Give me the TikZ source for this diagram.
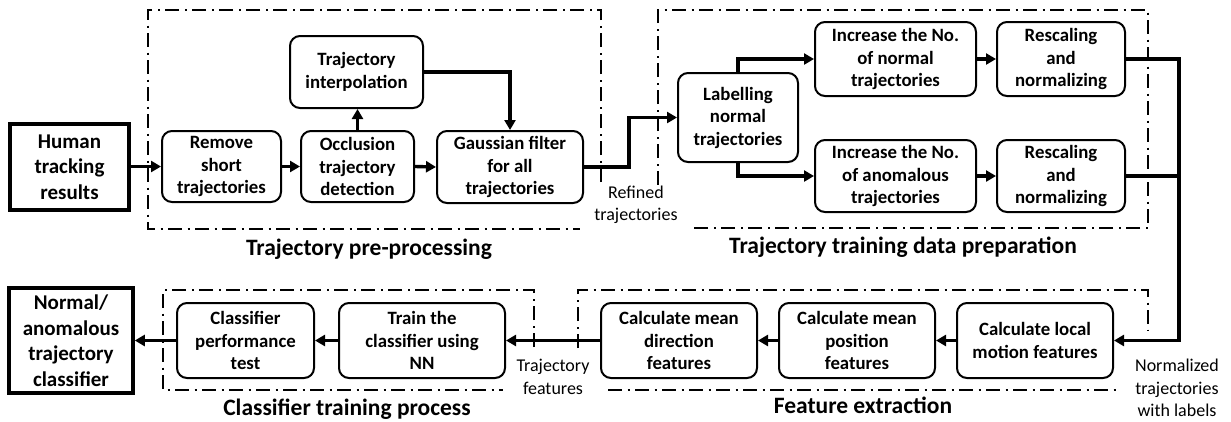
\documentclass[tikz,border=0pt]{standalone}
\usepackage{fontspec}
\setmainfont{Carlito}
\usetikzlibrary{arrows.meta}

\begin{document}
\begin{tikzpicture}[x=1pt,y=-1pt,
  proc/.style={draw, line width=2pt, rounded corners=10pt, align=center,
    inner sep=0pt, font=\bfseries\fontsize{18.8}{22.5}\selectfont},
  endbox/.style={draw, line width=3.6pt, align=center, inner sep=0pt,
    font=\bfseries\fontsize{21}{25.5}\selectfont},
  grp/.style={line width=1.6pt, dash pattern=on 14pt off 5.5pt on 2pt off 5.5pt},
  flow/.style={line width=3.4pt, -{Triangle[length=10pt,width=11pt]}},
  link/.style={line width=3.4pt},
  lbl/.style={fill=white, align=center, inner sep=1pt,
    font=\fontsize{18}{22.5}\selectfont},
  grptitle/.style={anchor=base, font=\bfseries\fontsize{23.5}{28}\selectfont}]

\useasboundingbox (0,0) rectangle (1231,421);

% group frames (open where a label sits on them)
\draw[grp] (601,182) -- (601,10) -- (148,10) -- (148,229) -- (580,229);
\draw[grp] (658,185) -- (658,10) -- (1148,10) -- (1148,228) -- (692,228);
\draw[grp] (534,347) -- (534,290) -- (163,290) -- (163,390) -- (503,390);
\draw[grp] (578,348) -- (578,290) -- (1148,290) -- (1148,330);
\draw[grp] (608,390) -- (1120,390);

% top row: pre-processing
\node[endbox, minimum width=119pt, minimum height=86pt] (human) at (69.5,167) {Human\\tracking\\results};
\node[proc, minimum width=119pt, minimum height=71pt] (remove) at (221.5,166.5) {Remove\\short\\trajectories};
\node[proc, minimum width=113pt, minimum height=71pt] (occl) at (357.5,166.5) {Occlusion\\trajectory\\detection};
\node[proc, minimum width=146pt, minimum height=72pt] (gauss) at (510,167) {Gaussian filter\\for all\\trajectories};
\node[proc, minimum width=133pt, minimum height=72pt] (interp) at (356.5,72) {Trajectory\\interpolation};

% top row: training data preparation
\node[proc, minimum width=120pt, minimum height=89pt] (labelling) at (738,117.5) {Labelling\\normal\\trajectories};
\node[proc, minimum width=161pt, minimum height=74pt] (incN) at (895.5,59) {Increase the No.\\of normal\\trajectories};
\node[proc, minimum width=128pt, minimum height=74pt] (resN) at (1061,59) {Rescaling\\and\\normalizing};
\node[proc, minimum width=161pt, minimum height=72pt] (incA) at (895.5,176) {Increase the No.\\of anomalous\\trajectories};
\node[proc, minimum width=128pt, minimum height=72pt] (resA) at (1061,176) {Rescaling\\and\\normalizing};

% bottom row
\node[endbox, minimum width=124pt, minimum height=105pt] (result) at (71,340.5) {Normal/\\anomalous\\trajectory\\classifier};
\node[proc, minimum width=137pt, minimum height=75pt] (cpt) at (245.5,340.5) {Classifier\\performance\\test};
\node[proc, minimum width=166pt, minimum height=75pt] (train) at (422,340.5) {Train the\\classifier using\\NN};
\node[proc, minimum width=156pt, minimum height=75pt] (dir) at (679,340.5) {Calculate mean\\direction\\features};
\node[proc, minimum width=156pt, minimum height=75pt] (pos) at (857,340.5) {Calculate mean\\position\\features};
\node[proc, minimum width=156pt, minimum height=75pt] (local) at (1035,340.5) {Calculate local\\motion features};

% connectors
\draw[flow] (human.east |- remove.west) -- (remove.west);
\draw[flow] (remove.east) -- (occl.west);
\draw[flow] (occl.east) -- (gauss.west);
\draw[flow] (occl.north) -- (occl.north |- interp.south);
\draw[flow, line join=miter] (interp.east) -| (gauss.north);
\coordinate (rise) at (629,167);
\draw[flow, line join=miter] (gauss.east) -- (rise) |- (labelling.west);
\draw[flow, line join=miter] (labelling.north) |- (incN.west);
\draw[flow, line join=miter] (labelling.south) |- (incA.west);
\draw[flow] (incN.east) -- (resN.west);
\draw[flow] (incA.east) -- (resA.west);
\coordinate (bus) at (1179,340.5);
\draw[link] (resA.east) -- (resA.east -| bus);
\draw[flow, line join=miter] (resN.east) -| (bus) -- (local.east);
\draw[flow] (local.west) -- (pos.east);
\draw[flow] (pos.west) -- (dir.east);
\draw[flow] (dir.west) -- (train.east);
\draw[flow] (train.west) -- (cpt.east);
\draw[flow] (cpt.west) -- (result.east);

% connector labels
\node[lbl] (refined) at (636,205) {Refined\\trajectories};
\node[lbl] (tfeat) at (553,377) {Trajectory\\features};
\node[lbl] (normlab) at (1177,388) {Normalized\\trajectories\\with labels};

% group titles
\node[grptitle] (t1) at (369,255) {Trajectory pre-processing};
\node[grptitle] (t2) at (903,253) {Trajectory training data preparation};
\node[grptitle] (t3) at (347,415) {Classifier training process};
\node[grptitle] (t4) at (863,413) {Feature extraction};
\end{tikzpicture}
\end{document}
